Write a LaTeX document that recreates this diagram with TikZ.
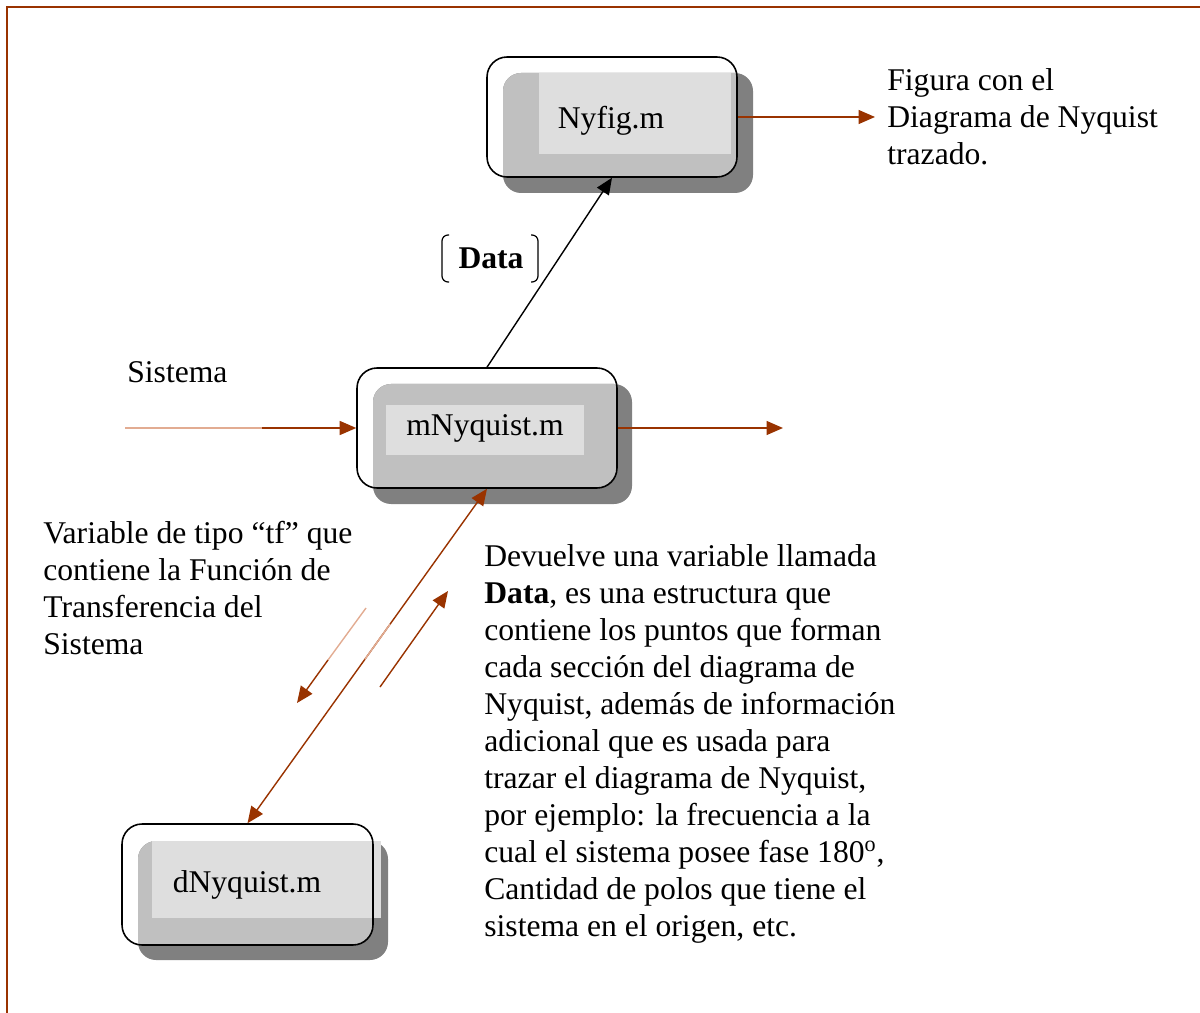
\documentclass[tikz,border=0pt]{standalone}
\usepackage{fontspec}
\setmainfont{Liberation Serif}
\usetikzlibrary{arrows.meta,calc}
\definecolor{flowbrown}{RGB}{153,51,0}
\definecolor{fadebrown}{RGB}{226,172,146}
\definecolor{shadowgray}{RGB}{128,128,128}
\definecolor{boxgray}{RGB}{192,192,192}
\definecolor{labelgray}{RGB}{222,222,222}
\tikzset{
  box-frame/.style={draw=black,line width=0.9pt,rounded corners=0.4cm,minimum width=5cm,minimum height=2.4cm,inner sep=0pt},
  box-text/.style={anchor=base,inner sep=0pt,font=\fontsize{18}{21.05}\selectfont},
  note/.style={anchor=north west,inner sep=0pt,align=left,font=\fontsize{18}{21.05}\selectfont},
  flow/.style={-{Triangle[length=3.3mm,width=2.8mm]},line width=0.8pt,flowbrown},
  flow-both/.style={{Triangle[length=3.3mm,width=2.8mm]}-{Triangle[length=3.3mm,width=2.8mm]},line width=0.8pt,flowbrown},
  flow-fade/.style={line width=0.8pt,fadebrown},
  data-link/.style={-{Triangle[length=3.3mm,width=2.8mm]},line width=0.8pt,black},
  bracket/.style={draw,line width=0.7pt,rounded corners=0.12cm},
}

\begin{document}
\begin{tikzpicture}[x=0.02cm,y=-0.02cm]
  \useasboundingbox (0,0) rectangle (1200,1013);

  % marco
  \draw[flowbrown,line width=1.3pt] (7,1013) -- (7,7) -- (1200,7);

  % Nyfig.m
  \fill[shadowgray,rounded corners=0.36cm] (503,73) rectangle (753,193);
  \begin{scope}
    \clip[rounded corners=0.4cm] (487,57) rectangle (737,177);
    \fill[boxgray,rounded corners=0.36cm] (503,73) rectangle (753,193);
  \end{scope}
  \fill[labelgray] (539,73) rectangle (731,154);
  \node[box-frame] (nyfig) at (612,117) {};
  \node[box-text] (nyfigtxt) at (611,129) {Nyfig.m};

  % mNyquist.m
  \fill[shadowgray,rounded corners=0.36cm] (373,384) rectangle (632,504);
  \begin{scope}
    \clip[rounded corners=0.4cm] (357,368) rectangle (617,488);
    \fill[boxgray,rounded corners=0.36cm] (373,384) rectangle (632,504);
  \end{scope}
  \fill[labelgray] (386,405) rectangle (584,455);
  \node[box-frame,minimum width=5.2cm] (mnyq) at (487,428) {};
  \node[box-text] (mnyqtxt) at (485,436) {mNyquist.m};

  % dNyquist.m
  \fill[shadowgray,rounded corners=0.36cm] (138,841) rectangle (388,960);
  \begin{scope}
    \clip[rounded corners=0.4cm] (122,824) rectangle (373,945);
    \fill[boxgray,rounded corners=0.36cm] (138,841) rectangle (388,960);
  \end{scope}
  \fill[labelgray] (152,841) rectangle (381,918);
  \node[box-frame,minimum width=5.02cm,minimum height=2.42cm] (dnyq) at (247.5,884.5) {};
  \node[box-text] (dnyqtxt) at (247,892) {dNyquist.m};

  % Data entre corchetes
  \node[box-text] (data) at (491,269) {\textbf{Data}};
  \draw[bracket] (449,235) -- (442,235) -- (442,282) -- (449,282);
  \draw[bracket] (531,235) -- (538,235) -- (538,282) -- (531,282);

  % conectores
  \coordinate (sysin) at (125,428);
  \coordinate (sysmid) at (262,428);
  \coordinate (mout) at (783,428);
  \coordinate (figout) at (875,117);
  \draw[flow-fade] (sysin) -- (sysmid);
  \draw[flow] (sysmid) -- (mnyq.west);
  \draw[flow] (mnyq.east) -- (mout);
  \draw[flow] (nyfig.east) -- (figout);
  \draw[data-link] (mnyq.north) -- (nyfig.south);
  \draw[flow-both] (dnyq.north) -- (mnyq.south);
  \draw[flow-fade] ($(dnyq.north)!0.49!(mnyq.south)$) -- ($(dnyq.north)!0.595!(mnyq.south)$);

  \coordinate (tfa) at (366,608);
  \coordinate (tfb) at (328,660);
  \coordinate (tfend) at (297,703);
  \draw[flow-fade] (tfa) -- (tfb);
  \draw[flow] (tfb) -- (tfend);
  \coordinate (datafrom) at (380,687);
  \coordinate (datato) at (448,591);
  \draw[flow] (datafrom) -- (datato);

  % textos
  \node[note] (figtxt) at (887,68) {Figura con el\\Diagrama de Nyquist\\trazado.};
  \node[box-text,anchor=base west] (systxt) at (127,382) {Sistema};
  \node[note] (tftxt) at (43,521) {Variable de tipo “tf” que\\contiene la Función de\\Transferencia del\\Sistema};
  \node[note] (datatxt) at (484,544) {Devuelve una variable llamada\\
    \textbf{Data}, es una estructura que\\
    contiene los puntos que forman\\
    cada sección del diagrama de\\
    Nyquist, además de información\\
    adicional que es usada para\\
    trazar el diagrama de Nyquist,\\
    por ejemplo: la frecuencia a la\\
    cual el sistema posee fase 180\textsuperscript{o},\\
    Cantidad de polos que tiene el\\
    sistema en el origen, etc.};

\end{tikzpicture}
\end{document}
